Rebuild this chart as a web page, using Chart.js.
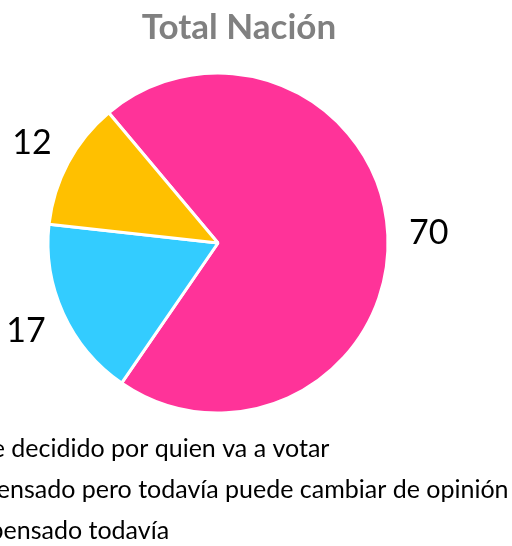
<!DOCTYPE html>
<html><head><meta charset="utf-8">
<script src="https://cdn.jsdelivr.net/npm/chart.js@4/dist/chart.umd.min.js"></script>
<style>
html,body{margin:0;padding:0;width:512px;height:546px;overflow:hidden;background:#fff;}
#wrap{position:absolute;left:-151px;top:0;width:738px;height:553px;}
#title{position:absolute;left:0;top:4px;width:478px;text-align:center;font-family:Lato,sans-serif;font-weight:bold;font-size:35px;line-height:1.2;color:#808080;}
</style></head><body>
<div id="wrap"><canvas id="c"></canvas></div>
<div id="title">Total Nación</div>
<script>
const categories = [
  "Ya tiene decidido por quien va a votar",
  "Lo ha pensado pero todavía puede cambiar de opinión",
  "No ha pensado todavía"
];
const values = [70, 17, 12];
const colors = ["#FF3399", "#33CCFF", "#FFC000"];

const outsideLabels = {
  id: 'outsideLabels',
  afterDatasetsDraw(chart) {
    const ctx = chart.ctx;
    const meta = chart.getDatasetMeta(0);
    ctx.save();
    ctx.font = '34px Lato, sans-serif';
    ctx.fillStyle = '#000';
    ctx.textAlign = 'center';
    ctx.textBaseline = 'middle';
    meta.data.forEach((arc, i) => {
      const p = arc.getProps(['x','y','startAngle','endAngle','outerRadius'], true);
      const mid = (p.startAngle + p.endAngle) / 2;
      const r = p.outerRadius + 41;
      ctx.fillText(String(values[i]), p.x + Math.cos(mid) * r, p.y + Math.sin(mid) * r);
    });
    ctx.restore();
  }
};

new Chart(document.getElementById('c'), {
  type: 'pie',
  data: {
    labels: categories,
    datasets: [{
      data: values,
      backgroundColor: colors,
      borderColor: '#ffffff',
      borderWidth: 3
    }]
  },
  options: {
    responsive: true,
    maintainAspectRatio: false,
    animation: false,
    rotation: -40,
    radius: 170,
    layout: { padding: { top: 66, left: 0, right: 0, bottom: 0 } },
    plugins: {
      title: { display: false },
      tooltip: { enabled: false },
      legend: {
        position: 'bottom',
        align: 'start',
        labels: {
          color: '#000',
          font: { family: 'Lato, sans-serif', size: 25 },
          boxWidth: 40,
          padding: 16
        }
      }
    }
  },
  plugins: [outsideLabels]
});
</script>
</body></html>
